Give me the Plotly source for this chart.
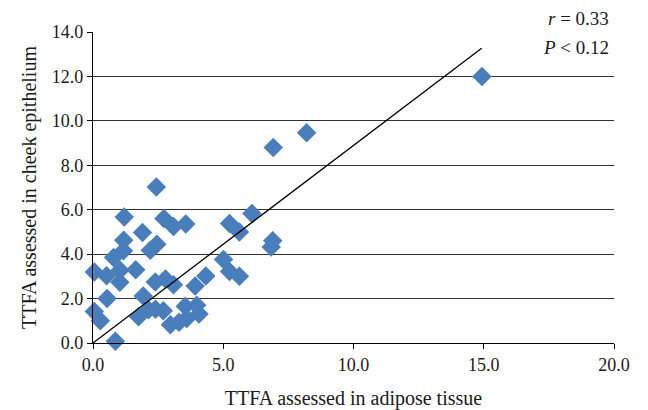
import plotly.graph_objects as go

adipose = [0.05, 0.05, 0.28, 0.52, 0.54, 0.86, 0.79, 1.04, 1.03, 1.17, 1.18, 1.20,
           1.64, 1.75, 1.93, 1.90, 2.13, 2.20, 2.40, 2.39, 2.43, 2.45, 2.70, 2.72,
           2.78, 3.09, 2.97, 3.09, 3.30, 3.56, 3.54, 3.60, 3.98, 4.07, 3.92, 4.33,
           5.01, 5.24, 5.24, 5.62, 5.62, 6.10, 6.90, 6.84, 6.92, 8.20, 14.93]
cheek = [3.20, 1.42, 1.00, 3.03, 2.00, 0.08, 3.85, 3.28, 2.74, 4.15, 4.62, 5.67,
         3.30, 1.18, 2.12, 4.97, 1.50, 4.17, 1.52, 2.75, 7.02, 4.45, 1.45, 5.60,
         2.88, 2.62, 0.82, 5.25, 0.93, 5.36, 1.65, 1.10, 1.70, 1.30, 2.57, 3.02,
         3.76, 5.38, 3.22, 5.00, 3.00, 5.83, 4.60, 4.32, 8.80, 9.47, 12.00]

trend_x = [0.0, 14.92]
trend_y = [0.0, 13.27]

x_ticks = [0, 5, 10, 15, 20]
y_ticks = [0, 2, 4, 6, 8, 10, 12, 14]

FONT = "Liberation Serif"

fig = go.Figure()
fig.add_trace(go.Scatter(
    x=adipose, y=cheek, mode="markers",
    marker=dict(symbol="diamond", size=15, color="#4A7EBB",
                line=dict(width=0)),
    showlegend=False, cliponaxis=False))
fig.add_trace(go.Scatter(
    x=trend_x, y=trend_y, mode="lines",
    line=dict(color="black", width=1.3), showlegend=False))

fig.update_layout(
    width=648, height=410,
    margin=dict(l=85, r=42, t=24, b=75),
    paper_bgcolor="white", plot_bgcolor="white",
    font=dict(family=FONT, size=18, color="#1a1a1a"),
    xaxis=dict(range=[0, 20], tickvals=x_ticks,
               ticktext=[f"{v:.1f}" for v in x_ticks],
               showgrid=False, zeroline=False,
               showline=True, linecolor="black", linewidth=1.3,
               ticks="outside", ticklen=5, tickcolor="black",
               automargin=False,
               title=dict(text="TTFA assessed in adipose tissue",
                          font=dict(size=20), standoff=17)),
    yaxis=dict(range=[0, 14], tickvals=y_ticks,
               ticktext=[f"{v:.1f}" for v in y_ticks],
               showgrid=True, gridcolor="#333", gridwidth=1.2,
               zeroline=False,
               showline=True, linecolor="black", linewidth=1.3,
               ticks="outside", ticklen=5, tickcolor="black",
               automargin=False,
               title=dict(text="TTFA assessed in cheek epithelium",
                          font=dict(size=20), standoff=9)),
    annotations=[
        dict(text="<i>r</i> = 0.33", xref="paper", yref="paper",
             x=1.0, y=1.0, xanchor="right", yanchor="middle",
             showarrow=False, font=dict(size=19), yshift=14, xshift=-3),
        dict(text="<i>P</i> < 0.12", xref="paper", yref="paper",
             x=1.0, y=1.0, xanchor="right", yanchor="middle",
             showarrow=False, font=dict(size=19), yshift=-15, xshift=-3),
    ],
)

fig.write_html("out.html")
